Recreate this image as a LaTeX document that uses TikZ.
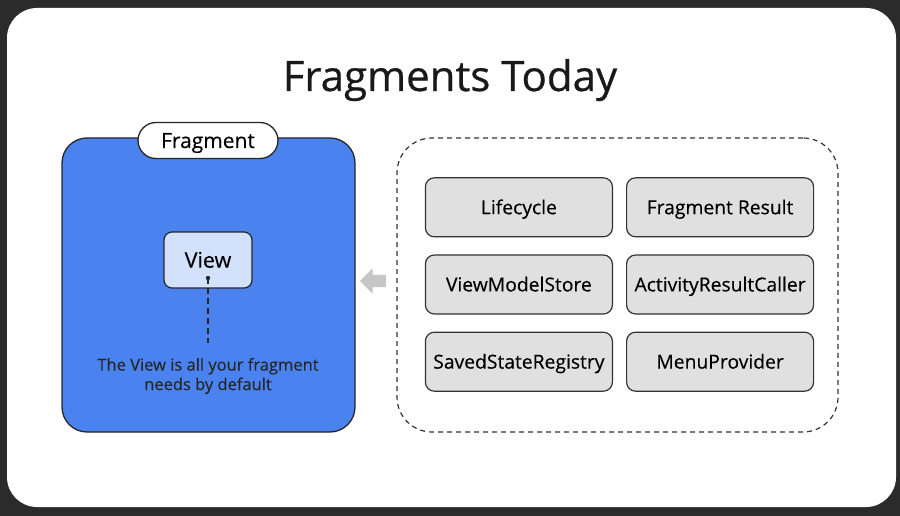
\documentclass[tikz,border=0pt]{standalone}
\usepackage{fontspec}
\setmainfont{Open Sans}[FakeBold=0.3]
\newfontfamily\titlefont{Open Sans}[FakeBold=0.6]
\usepackage{tikz}
\usetikzlibrary{positioning,shapes.arrows}
\definecolor{darkbg}{HTML}{2B2B2B}
\definecolor{fragblue}{HTML}{4A82F0}
\definecolor{viewblue}{HTML}{D2E2FC}
\definecolor{partgray}{HTML}{E0E0E0}
\definecolor{arrowgray}{HTML}{C6C6C6}

\begin{document}
\begin{tikzpicture}[x=1pt, y=-1pt]
        \tikzstyle{part}=[draw=black!80, line width=1.2pt, fill=partgray, rounded corners=9pt, minimum width=187pt, minimum height=59pt, text height=13.8pt, text depth=0pt, font=\fontsize{19.3}{22}\selectfont]
        
        \fill[darkbg] (0,0) rectangle (900,516);
        \fill[white, rounded corners=30pt] (7,8) rectangle (896,507);
        \useasboundingbox (0,0) rectangle (900,516);
        
        \node   (title)     [anchor=base, text=black!90] at (450,91) {\fontsize{42}{48}\titlefont Fragments Today};
        
        \node   (frag)      [draw=black!85, line width=1.3pt, fill=fragblue, rounded corners=25pt, minimum width=293pt, minimum height=294pt] at (208.5,285) {};
        \node   (fraglabel) [draw=black!85, line width=1.3pt, fill=white, rounded corners=18pt, minimum width=140pt, minimum height=36pt, text height=15pt, text depth=0pt, font=\fontsize{21}{24}\selectfont] at (208,140.5) {Fragment};
        \node   (view)      [draw=black!85, line width=1.2pt, fill=viewblue, rounded corners=8pt, minimum width=88pt, minimum height=56pt, text height=15.3pt, text depth=0pt, font=\fontsize{21.5}{24}\selectfont] at (208,260) {View};
        \coordinate (dot)   at (208,278);
        \node   (note)      [align=center, font=\fontsize{16.5}{19.5}\selectfont, text=black!85] at (208,376) {The View is all your fragment\\needs by default};
        
        \fill[black!85] (dot) circle (2.2pt);
        \draw[black!85, line width=1.3pt, dash pattern=on 6pt off 4pt] (dot) -- (208,343);
        
        \node   (arrow)     [single arrow, shape border rotate=180, fill=arrowgray, inner sep=6pt, single arrow head extend=6.5pt, minimum height=26pt] at (376,281) {};
        
        \node   (services)  [draw=black!80, line width=1.2pt, dash pattern=on 5pt off 4pt, rounded corners=35pt, minimum width=441pt, minimum height=294pt] at (617.5,285) {};
        
        \matrix[column sep=13pt, row sep=17pt] at (619.5,284.5) {
            \node   (lifecycle) [part] {Lifecycle}; &
            \node   (result)    [part] {Fragment Result}; \\
            \node   (vmstore)   [part] {ViewModelStore}; &
            \node   (caller)    [part] {ActivityResultCaller}; \\
            \node   (registry)  [part] {SavedStateRegistry}; &
            \node   (menu)      [part] {MenuProvider}; \\
        };
        
    \end{tikzpicture}
\end{document}
